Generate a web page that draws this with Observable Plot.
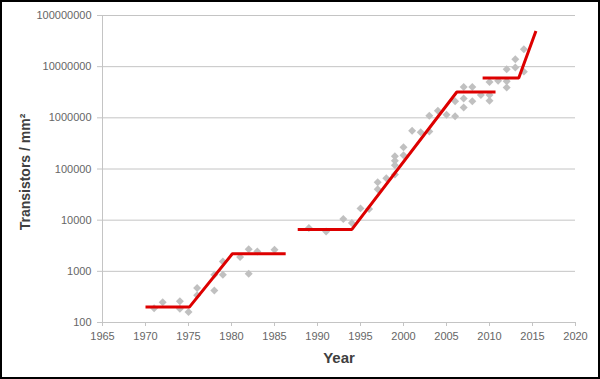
<!DOCTYPE html>
<html>
<head>
<meta charset="utf-8">
<script src="https://cdn.jsdelivr.net/npm/d3@7"></script>
<script src="https://cdn.jsdelivr.net/npm/@observablehq/plot@0.6"></script>
<style>
  html, body { margin: 0; padding: 0; background: #fff; }
  #frame { width: 600px; height: 379px; box-sizing: border-box; border: 2px solid #000; overflow: hidden; background: #fff; }
  #frame svg { display: block; }
</style>
</head>
<body>
<div id="frame"></div>
<script>
// Tick labels
const xTicks = [1965, 1970, 1975, 1980, 1985, 1990, 1995, 2000, 2005, 2010, 2015, 2020];
const yTicks = [100, 1000, 10000, 100000, 1000000, 10000000, 100000000];

// Gray diamond observations
const pointYears = [
  1971, 1972, 1974, 1974, 1975, 1976, 1976, 1978, 1978, 1979, 1979,
  1981, 1982, 1982, 1983, 1985,
  1989, 1991, 1993, 1994, 1995, 1996, 1997, 1997, 1998,
  1999, 1999, 1999, 1999, 2000, 2000,
  2001, 2002, 2003, 2003, 2004, 2005, 2006, 2006,
  2007, 2007, 2007, 2008, 2008, 2009,
  2010, 2010, 2010, 2011, 2012, 2012, 2012, 2013, 2013, 2014, 2014
];
const pointValues = [
  190, 250, 260, 185, 160, 470, 340, 420, 860, 860, 1550,
  1900, 2700, 900, 2450, 2650,
  7000, 6000, 10500, 8800, 17000, 16500, 55000, 40000, 66000,
  178000, 145000, 118000, 78000, 265000, 185000,
  560000, 520000, 1100000, 540000, 1380000, 1150000, 2100000, 1070000,
  4000000, 2400000, 1600000, 4000000, 2100000, 2800000,
  5000000, 2800000, 2150000, 5300000, 5200000, 3900000, 8900000, 14000000, 9600000, 22000000, 8000000
];

// Red trend segments
const seg1Years = [1970, 1975.1, 1980.1, 1986.3];
const seg1Values = [200, 200, 2200, 2200];
const seg2Years = [1987.7, 1994.0, 2006.2, 2010.7];
const seg2Values = [6600, 6600, 3200000, 3200000];
const seg3Years = [2009.2, 2013.4, 2015.4];
const seg3Values = [6000000, 6000000, 50000000];

const points = pointYears.map((x, i) => ({x, y: pointValues[i]}));
const segments = [
  [seg1Years, seg1Values, 1],
  [seg2Years, seg2Values, 2],
  [seg3Years, seg3Values, 3]
].flatMap(([xs, ys, id]) => xs.map((x, i) => ({x, y: ys[i], id})));

const chart = Plot.plot({
  width: 596,
  height: 375,
  marginLeft: 100,
  marginRight: 23,
  marginTop: 13,
  marginBottom: 55,
  style: {fontFamily: "'Liberation Sans', Arial, sans-serif", fontSize: "11px", background: "#fff", color: "#666666"},
  x: {domain: [1965, 2020]},
  y: {type: "log", domain: [100, 100000000]},
  marks: [
    Plot.gridY(yTicks, {stroke: "#c4c4c4", strokeOpacity: 1, strokeWidth: 1}),
    Plot.ruleX([1965], {stroke: "#c4c4c4", strokeWidth: 1}),
    Plot.ruleY([100], {stroke: "#c4c4c4", strokeWidth: 1}),
    Plot.axisY({ticks: yTicks, tickFormat: d => String(d), tickSize: 5, tickPadding: 6, stroke: "#c4c4c4", fill: "#666666", label: null}),
    Plot.axisX({ticks: xTicks, tickFormat: d => String(d), tickSize: 4, tickPadding: 6, stroke: "#c4c4c4", fill: "#666666", label: null}),
    Plot.dot(points, {x: "x", y: "y", symbol: "diamond2", r: 3.6, fill: "#c0c0c0", stroke: "none"}),
    Plot.line(segments, {x: "x", y: "y", z: "id", stroke: "#dd0000", strokeWidth: 3, strokeLinejoin: "miter", strokeLinecap: "butt"}),
    Plot.text(["Transistors / mm²"], {frameAnchor: "left", dx: -77, dy: 3, rotate: -90, textAnchor: "middle", lineAnchor: "middle", fontSize: 14, fontWeight: "bold", fill: "#404040"}),
    Plot.text(["Year"], {frameAnchor: "bottom", dy: 36, textAnchor: "middle", lineAnchor: "middle", fontSize: 15, fontWeight: "bold", fill: "#404040"})
  ]
});
document.getElementById("frame").appendChild(chart);
</script>
</body>
</html>
